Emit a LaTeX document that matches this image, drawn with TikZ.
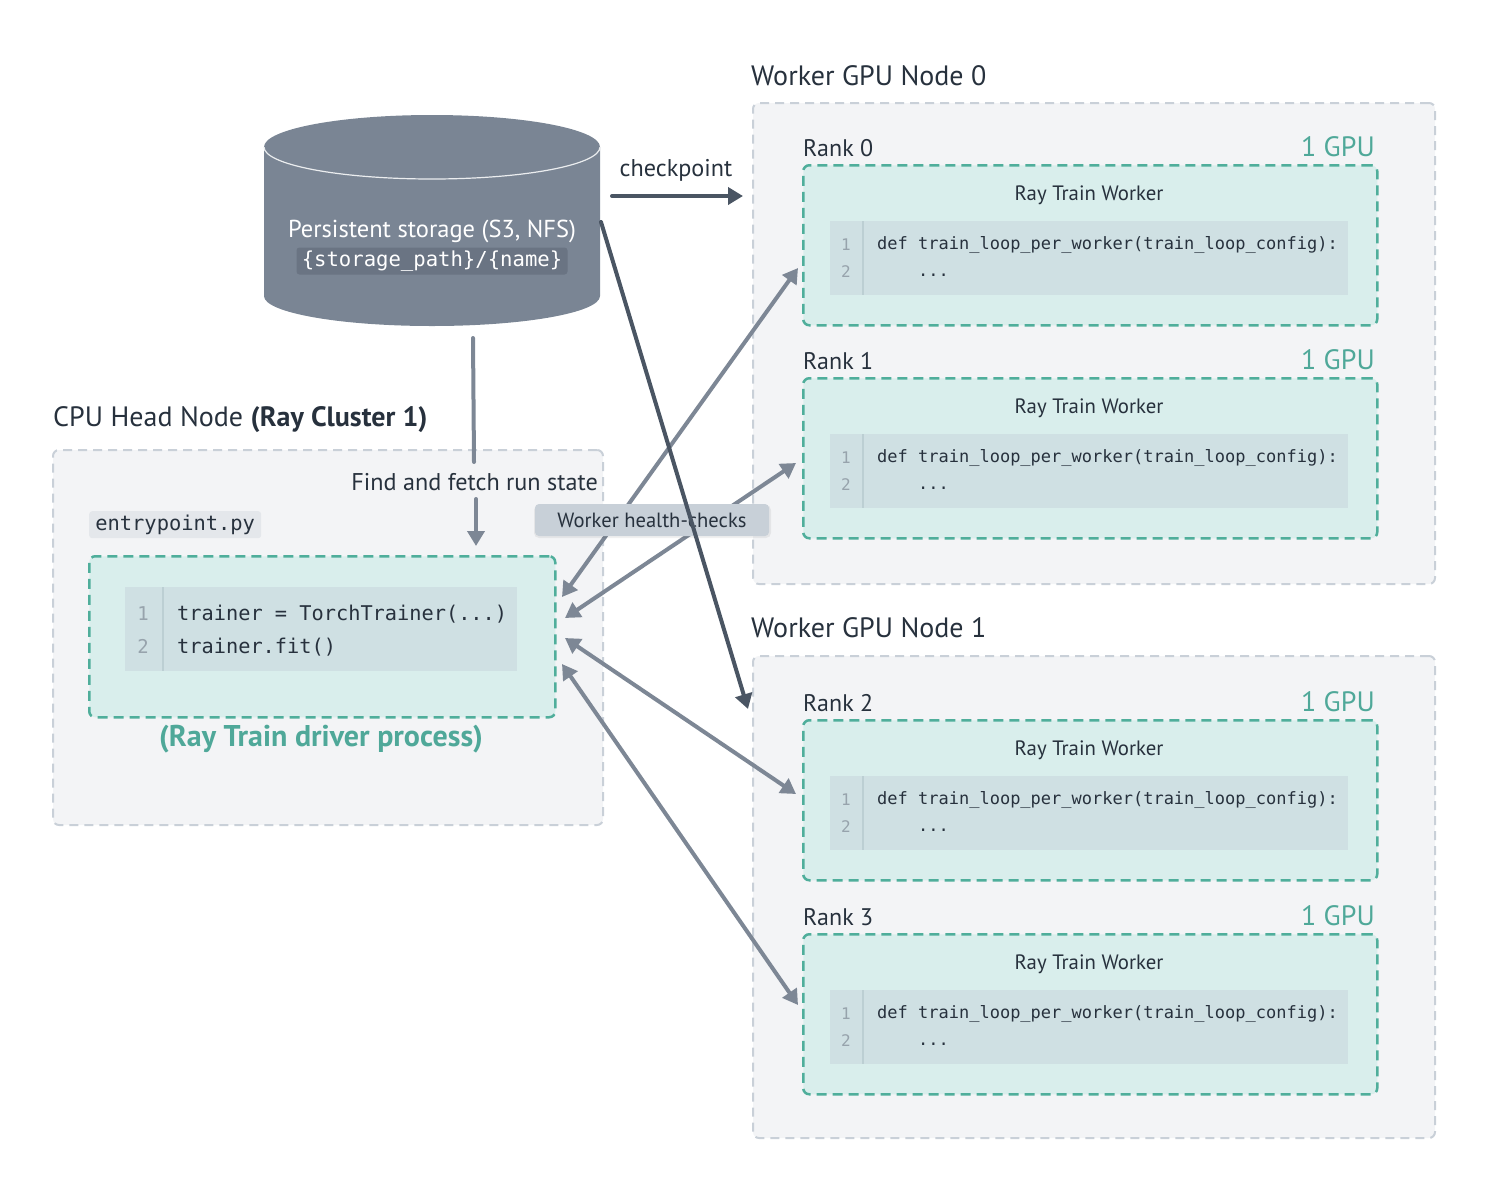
\documentclass[tikz,border=0pt]{standalone}
\usepackage{fontspec}
\setmainfont{PT Sans}
\setmonofont{DejaVu Sans Mono}
\usetikzlibrary{arrows.meta}
\definecolor{txtdark}{HTML}{27313D}
\definecolor{boxfill}{HTML}{F3F4F6}
\definecolor{boxline}{HTML}{C9D0D8}
\definecolor{tealline}{HTML}{4FAE9B}
\definecolor{tealfill}{HTML}{D9EEEC}
\definecolor{tealtxt}{HTML}{4FA899}
\definecolor{codefill}{HTML}{CFE0E3}
\definecolor{gutterline}{HTML}{BCCFD3}
\definecolor{linenum}{HTML}{97A3AC}
\definecolor{cylfill}{HTML}{7A8594}
\definecolor{cyltag}{HTML}{6A7483}
\definecolor{darkarrow}{HTML}{4A5563}
\definecolor{grayarrow}{HTML}{7D8795}
\definecolor{labelfill}{HTML}{C8D0D8}
\definecolor{filetag}{HTML}{E4E7EB}
\begin{document}
\begin{tikzpicture}[x=1pt,y=-1pt,
  graybox/.style={draw=boxline, fill=boxfill, line width=2pt, dash pattern=on 9pt off 6pt, rounded corners=6pt, anchor=north west, inner sep=0},
  tealbox/.style={draw=tealline, fill=tealfill, line width=2.5pt, dash pattern=on 10pt off 6pt, rounded corners=6pt, anchor=north west, inner sep=0},
  codebox/.style={fill=codefill, anchor=north west, inner sep=0},
  titletxt/.style={font=\fontsize{28}{33}\selectfont, text=txtdark, anchor=base west, inner sep=0},
  ranktxt/.style={font=\fontsize{24}{29}\selectfont, text=txtdark, anchor=base west, inner sep=0},
  gputxt/.style={font=\fontsize{28}{33}\selectfont, text=tealtxt, anchor=base east, inner sep=0},
  workertxt/.style={font=\fontsize{20.8}{25}\selectfont, text=txtdark, anchor=base, inner sep=0},
  codetxt/.style={font=\ttfamily\fontsize{17}{20}\selectfont, text=txtdark, anchor=base west, inner sep=0},
  numtxt/.style={font=\ttfamily\fontsize{16}{20}\selectfont, text=linenum, anchor=base, inner sep=0},
  bigcode/.style={font=\ttfamily\fontsize{20.3}{24}\selectfont, text=txtdark, anchor=base west, inner sep=0},
  bignum/.style={font=\ttfamily\fontsize{19}{24}\selectfont, text=linenum, anchor=base, inner sep=0},
  plaintxt/.style={font=\fontsize{24.2}{29}\selectfont, text=txtdark, inner sep=0},
  grayconn/.style={draw=grayarrow, line width=4pt, {Triangle[length=15pt,width=17pt]}-{Triangle[length=15pt,width=17pt]}},
  darkconn/.style={draw=darkarrow, line width=4pt, line cap=round, -{Triangle[length=15pt,width=17pt]}}
]
\useasboundingbox (0,0) rectangle (1486,1192);

% ---------- cylinder (persistent storage) ----------
\fill[cylfill] (264,147) -- (264,296) arc[start angle=180, end angle=0, x radius=168, y radius=30] -- (600,147) -- cycle;
\fill[cylfill] (432,147) ellipse[x radius=168, y radius=32];
\draw[white!85!cylfill, line width=1.2pt] (264,147) arc[start angle=180, end angle=0, x radius=168, y radius=32];
\node[font=\fontsize{24.5}{29}\selectfont, text=white, anchor=base, inner sep=0] (store) at (432,237) {Persistent storage (S3, NFS)};
\node[fill=cyltag, rounded corners=3pt, minimum width=271pt, minimum height=27pt, inner sep=0, font=\ttfamily\fontsize{20.6}{24}\selectfont, text=white] (storetag) at (432,261) {\{storage\_path\}/\{name\}};

% ---------- CPU head node ----------
\node[titletxt] (headtitle) at (53,426) {CPU Head Node \textbf{(Ray Cluster 1)}};
\node[graybox, minimum width=550pt, minimum height=375pt] (head) at (52,449) {};
\node[fill=filetag, rounded corners=3pt, anchor=north west, minimum width=172pt, minimum height=27pt, inner sep=0, font=\ttfamily\fontsize{20.4}{24}\selectfont, text=txtdark] (entry) at (89,511) {entrypoint.py};
\node[tealbox, minimum width=466pt, minimum height=161pt] (driver) at (88,555) {};
\node[codebox, minimum width=392pt, minimum height=84pt] (drivercode) at (125,587) {};
\draw[gutterline, line width=1.5pt] (163,587) -- (163,671);
\node[bignum] (dn1) at (143,620) {1};
\node[bignum] (dn2) at (143,653) {2};
\node[bigcode] (dl1) at (177,620) {trainer = TorchTrainer(...)};
\node[bigcode] (dl2) at (177,653) {trainer.fit()};
\node[font=\bfseries\fontsize{30}{35}\selectfont, text=tealtxt, anchor=base, inner sep=0] (drvlabel) at (321,746) {(Ray Train driver process)};

% ---------- Worker GPU nodes ----------
\node[titletxt] (g0title) at (751,85) {Worker GPU Node 0};
\node[graybox, minimum width=682pt, minimum height=481pt] (gpu0) at (752,102) {};
\node[titletxt] (g1title) at (751,637) {Worker GPU Node 1};
\node[graybox, minimum width=682pt, minimum height=482pt] (gpu1) at (752,655) {};

\foreach \T/\r in {164/0, 377/1, 719/2, 933/3}{
  \node[ranktxt] (rank\r) at (803,\T-8) {Rank \r};
  \node[gputxt] (gpu\r) at (1375,\T-8) {1 GPU};
  \node[tealbox, minimum width=574pt, minimum height=160pt] (worker\r) at (802,\T) {};
  \node[workertxt] (wt\r) at (1089,\T+36) {Ray Train Worker};
  \node[codebox, minimum width=518pt, minimum height=74pt] (wcode\r) at (830,\T+57) {};
  \draw[gutterline, line width=1.5pt] (863,\T+57) -- (863,\T+131);
  \node[numtxt] (wn1\r) at (846,\T+86) {1};
  \node[numtxt] (wn2\r) at (846,\T+113) {2};
  \node[codetxt] (wl1\r) at (877,\T+85) {def train\_loop\_per\_worker(train\_loop\_config):};
  \node[codetxt] (wl2\r) at (877,\T+112) {\ \ \ \ ...};
}

% ---------- connector end points ----------
\coordinate (hcA0) at (798,268);  \coordinate (hcB0) at (562,597);
\coordinate (hcA1) at (796,463);  \coordinate (hcB1) at (565,618);
\coordinate (hcA2) at (796,794);  \coordinate (hcB2) at (565,638);
\coordinate (hcA3) at (798,1005); \coordinate (hcB3) at (562,664);
\coordinate (cpS) at (612,196);   \coordinate (cpE) at (743,196);
\coordinate (dgS) at (601,222);   \coordinate (dgE) at (748,709);
\coordinate (ffS) at (473,338);   \coordinate (ffM) at (474,462);
\coordinate (ffA) at (476,499);   \coordinate (ffE) at (476,546);

% ---------- gray double arrows (health checks) ----------
\foreach \i in {0,1,2,3}{
  \draw[grayconn] (hcA\i) -- (hcB\i);
}
\draw[grayarrow, line width=4pt, line cap=round] (ffS) -- (ffM);
\draw[grayarrow, line width=4pt, line cap=round, -{Triangle[length=15pt,width=17pt]}] (ffA) -- (ffE);
\node[plaintxt, anchor=base east] (fetch) at (598,490) {Find and fetch run state};

% label
\fill[black, opacity=0.06, rounded corners=5pt] (534,505) rectangle (771,538);
\node[fill=labelfill, rounded corners=4pt, minimum width=234pt, minimum height=32pt, inner sep=0, font=\fontsize{20.6}{25}\selectfont, text=txtdark] (hclabel) at (652,520) {Worker health-checks};

% ---------- dark arrows (checkpoint) ----------
\draw[darkconn] (cpS) -- (cpE);
\node[plaintxt, anchor=base] (cptxt) at (676,176) {checkpoint};
\draw[darkconn] (dgS) -- (dgE);
\end{tikzpicture}
\end{document}
